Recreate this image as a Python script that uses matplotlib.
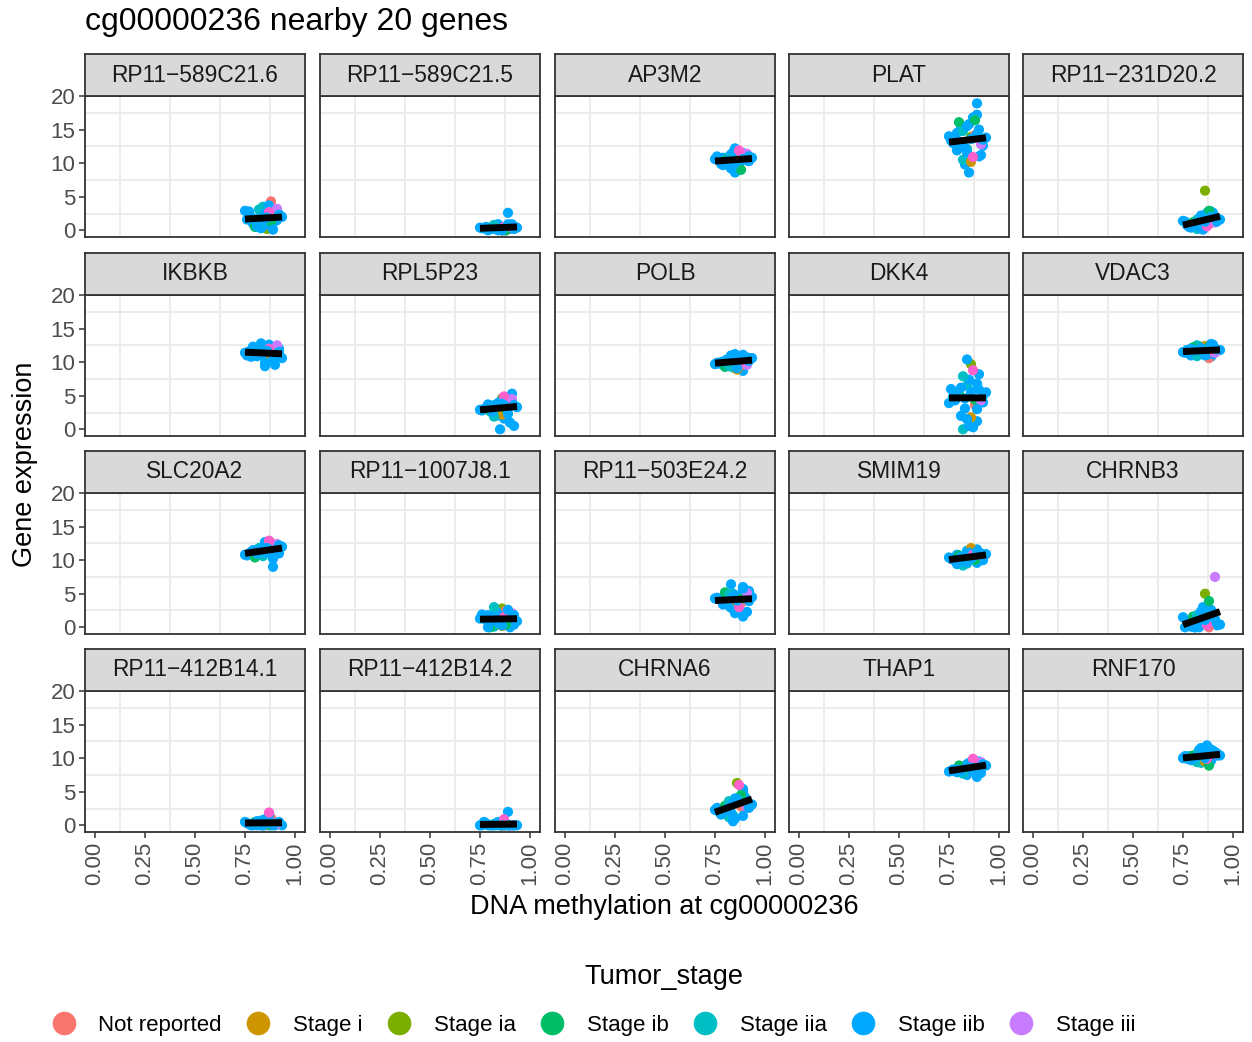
import numpy as np
import matplotlib.pyplot as plt
from matplotlib.lines import Line2D

plt.rcParams['font.family'] = ['Liberation Sans', 'DejaVu Sans']

W, H = 1252, 1042

stage_names = ["Not reported", "Stage i", "Stage ia", "Stage ib",
               "Stage iia", "Stage iib", "Stage iii", "Stage iv"]
stage_colors = ["#F8766D", "#CD9600", "#7CAE00", "#00BE67",
                "#00BFC4", "#00A9FF", "#C77CFF", "#FF61CC"]

# methylation beta value and tumour stage per sample (shared by every gene)
meth = [0.77, 0.81, 0.84, 0.87, 0.90, 0.79, 0.83, 0.86, 0.89, 0.92,
        0.76, 0.82, 0.85, 0.88, 0.91, 0.78, 0.80, 0.84, 0.87, 0.89,
        0.75, 0.83, 0.86, 0.90, 0.935, 0.79, 0.82, 0.85, 0.88, 0.91,
        0.81, 0.84, 0.87, 0.89, 0.86, 0.92]
stage = [5, 5, 4, 5, 5, 5, 5, 2, 5, 5, 5, 4, 5, 0, 5, 5, 3, 5,
         5, 5, 5, 5, 1, 5, 5, 5, 4, 5, 3, 6, 5, 5, 7, 5, 5, 5]

genes = ["RP11-589C21.6", "RP11-589C21.5", "AP3M2", "PLAT", "RP11-231D20.2",
         "IKBKB", "RPL5P23", "POLB", "DKK4", "VDAC3",
         "SLC20A2", "RP11-1007J8.1", "RP11-503E24.2", "SMIM19", "CHRNB3",
         "RP11-412B14.1", "RP11-412B14.2", "CHRNA6", "THAP1", "RNF170"]

expr_RP11_589C21_6 = [2.8, 1.2, 3.5, 0.4, 2.1, 1.0, 2.6, 0.2, 1.9, 2.4, 1.6, 3.1, 0.8, 4.3, 1.5, 2.0, 0.5, 1.8,
                      3.7, 1.1, 2.9, 0.3, 2.2, 1.4, 2.0, 1.7, 0.9, 2.5, 1.3, 3.2, 0.6, 1.6, 2.7, 0.1, 1.9, 2.3]
expr_RP11_589C21_5 = [0.3, 0.3, 0.8, 0.0, 0.2, 0.4, 0.5, 0.0, 2.6, 0.2, 0.3, 0.8, 0.4, 0.0, 0.9, 0.5, 0.2, 0.9,
                      0.1, 0.6, 0.4, 0.3, 0.0, 0.3, 0.4, 0.0, 0.7, 0.1, 0.0, 0.4, 0.2, 0.0, 0.5, 0.9, 0.0, 0.3]
expr_AP3M2 = [10.5, 9.8, 11.2, 10.1, 10.8, 10.8, 9.2, 10.6, 11.5, 10.3, 11.0, 11.0, 8.6, 10.9, 10.4, 9.9, 10.4, 11.6,
              9.5, 10.7, 10.6, 11.3, 10.0, 10.6, 10.8, 9.7, 10.5, 12.2, 9.0, 11.4, 10.3, 9.6, 11.9, 10.6, 10.2, 11.0]
expr_PLAT = [13.0, 15.2, 12.1, 16.8, 11.0, 14.5, 9.8, 13.9, 17.2, 12.6, 13.4, 10.5, 15.8, 14.2, 11.2, 12.9, 16.1, 11.6,
             13.7, 18.9, 14.0, 12.3, 10.2, 15.0, 13.8, 11.9, 14.8, 8.6, 16.4, 12.8, 13.1, 15.5, 10.9, 14.3, 13.6, 13.5]
expr_RP11_231D20_2 = [0.8, 1.0, 1.3, 2.0, 1.6, 0.6, 1.5, 5.9, 2.8, 1.8, 1.3, 0.2, 1.8, 0.9, 1.2, 0.5, 1.2, 0.3,
                      2.6, 1.4, 1.4, 0.7, 1.9, 2.6, 1.6, 0.4, 1.6, 0.1, 2.9, 1.2, 0.8, 2.2, 0.6, 2.0, 1.3, 1.3]
expr_IKBKB = [11.6, 10.9, 12.4, 11.2, 9.6, 11.8, 12.8, 10.5, 11.3, 12.0, 11.0, 11.7, 9.4, 12.2, 11.5, 10.8, 11.9, 11.1,
              12.6, 10.2, 11.4, 12.1, 11.0, 11.8, 10.6, 12.3, 11.2, 9.9, 11.6, 12.5, 10.9, 11.3, 12.0, 10.4, 11.7, 11.5]
expr_RPL5P23 = [3.0, 2.5, 3.8, 4.2, 1.0, 3.4, 2.0, 4.6, 3.1, 0.5, 2.8, 3.6, 0.0, 4.0, 5.3, 3.2, 2.7, 3.9,
                1.6, 4.4, 2.9, 3.5, 2.2, 4.8, 3.3, 3.7, 1.9, 4.1, 3.0, 4.5, 2.6, 3.4, 4.9, 2.3, 3.8, 3.6]
expr_POLB = [9.8, 10.4, 9.2, 10.8, 10.1, 9.6, 11.0, 10.2, 8.7, 10.6, 9.9, 10.3, 11.2, 9.5, 10.7, 10.0, 9.3, 10.5,
             9.9, 11.1, 9.7, 10.2, 8.9, 10.4, 10.6, 10.1, 9.4, 10.9, 10.0, 9.6, 10.3, 10.8, 9.8, 10.5, 9.1, 10.2]
expr_DKK4 = [4.8, 2.0, 6.5, 0.3, 8.2, 5.5, 3.1, 9.7, 1.2, 4.0, 6.0, 0.0, 7.4, 3.6, 4.6, 4.3, 5.2, 10.4,
             0.8, 6.8, 3.9, 4.6, 1.8, 5.9, 5.5, 5.0, 7.9, 0.5, 4.4, 4.3, 6.2, 1.5, 8.8, 3.0, 5.6, 5.0]
expr_VDAC3 = [11.8, 11.2, 12.3, 11.5, 12.6, 11.0, 11.9, 12.1, 10.8, 11.7, 11.4, 12.5, 11.6, 10.6, 12.0, 11.3, 12.2, 11.8,
              11.1, 12.7, 11.5, 11.9, 12.4, 11.2, 11.8, 12.0, 10.9, 11.6, 12.3, 11.4, 11.7, 12.1, 11.3, 12.6, 11.0, 11.9]
expr_SLC20A2 = [11.0, 11.3, 10.6, 12.4, 11.5, 10.9, 11.5, 12.0, 10.2, 11.0, 10.7, 11.8, 11.1, 12.6, 11.4, 11.2, 10.4, 11.9,
                12.3, 9.0, 10.8, 11.6, 12.1, 11.3, 12.0, 11.5, 10.9, 12.7, 11.7, 12.4, 11.0, 11.4, 12.9, 10.6, 11.8, 12.2]
expr_RP11_1007J8_1 = [1.5, 0.3, 2.2, 1.0, 0.0, 1.8, 0.6, 2.8, 1.2, 0.4, 1.9, 0.1, 1.4, 2.5, 0.8, 1.1, 0.0, 2.0,
                      0.5, 1.6, 1.3, 2.4, 0.2, 1.7, 0.9, 0.0, 3.0, 1.2, 0.4, 2.1, 1.0, 0.7, 1.5, 2.6, 0.3, 1.8]
expr_RP11_503E24_2 = [4.2, 3.5, 5.0, 2.8, 4.6, 3.9, 6.4, 4.1, 1.6, 5.4, 4.4, 3.2, 4.8, 3.6, 2.3, 4.0, 5.2, 3.3,
                      4.7, 6.0, 4.3, 2.9, 3.8, 5.6, 4.5, 3.4, 4.9, 2.1, 4.2, 5.1, 3.7, 4.6, 3.0, 5.8, 4.0, 3.9]
expr_SMIM19 = [10.1, 10.6, 9.5, 11.2, 10.3, 10.8, 9.8, 10.4, 11.6, 10.0, 10.2, 9.2, 10.9, 10.5, 11.0, 9.9, 10.7, 11.4,
               10.2, 9.6, 10.4, 10.1, 11.8, 10.6, 10.9, 9.4, 10.3, 11.1, 10.0, 10.7, 10.5, 9.7, 10.8, 11.3, 10.2, 10.6]
expr_CHRNB3 = [0.3, 0.0, 1.2, 2.5, 0.6, 0.5, 0.8, 5.0, 1.8, 0.3, 0.0, 0.2, 3.0, 0.0, 1.2, 0.8, 1.6, 0.4,
               2.8, 2.6, 1.5, 0.0, 1.5, 2.2, 0.4, 0.1, 1.8, 0.6, 3.9, 7.5, 0.0, 2.4, 0.3, 2.2, 1.1, 0.5]
expr_RP11_412B14_1 = [0.2, 0.0, 0.6, 0.0, 0.3, 0.3, 0.0, 0.8, 0.1, 0.2, 0.3, 0.4, 0.0, 1.1, 0.2, 0.0, 0.5, 0.0,
                      1.6, 0.3, 0.5, 0.7, 0.1, 0.0, 0.0, 0.0, 0.4, 0.9, 0.0, 0.2, 0.6, 0.0, 1.9, 0.0, 0.3, 0.5]
expr_RP11_412B14_2 = [0.5, 0.0, 0.3, 0.0, 0.0, 0.1, 0.0, 0.0, 2.0, 0.0, 0.0, 0.2, 0.0, 0.0, 0.0, 0.3, 0.0, 0.5,
                      0.0, 0.0, 0.0, 0.1, 0.0, 0.0, 0.0, 0.0, 0.0, 0.0, 0.3, 0.0, 0.0, 0.2, 0.9, 0.0, 0.0, 0.0]
expr_CHRNA6 = [2.0, 2.4, 1.5, 3.8, 2.6, 1.8, 3.0, 6.3, 5.4, 3.2, 2.6, 1.2, 4.0, 2.8, 3.4, 1.6, 2.9, 0.6,
               3.5, 5.0, 2.3, 1.9, 3.4, 4.2, 3.1, 2.1, 3.6, 1.0, 4.5, 2.7, 2.5, 3.3, 6.0, 1.4, 3.9, 2.6]
expr_THAP1 = [8.3, 8.0, 9.1, 8.6, 9.5, 7.9, 8.4, 8.8, 7.2, 9.0, 8.1, 8.7, 9.3, 8.5, 7.8, 8.2, 8.9, 7.5,
              9.7, 8.6, 8.0, 8.4, 9.2, 8.7, 8.9, 8.3, 7.7, 9.0, 8.5, 9.4, 8.1, 8.8, 9.9, 7.6, 8.6, 9.1]
expr_RNF170 = [9.9, 10.4, 9.3, 11.9, 10.2, 9.7, 11.2, 10.0, 10.5, 10.4, 10.3, 9.4, 10.6, 10.1, 10.9, 10.3, 10.4, 11.5,
               10.2, 9.6, 10.0, 10.7, 9.5, 11.1, 10.4, 9.8, 10.3, 10.9, 8.9, 10.6, 10.1, 10.5, 9.9, 11.3, 10.0, 10.7]

expr_all = [expr_RP11_589C21_6, expr_RP11_589C21_5, expr_AP3M2, expr_PLAT, expr_RP11_231D20_2,
            expr_IKBKB, expr_RPL5P23, expr_POLB, expr_DKK4, expr_VDAC3,
            expr_SLC20A2, expr_RP11_1007J8_1, expr_RP11_503E24_2, expr_SMIM19, expr_CHRNB3,
            expr_RP11_412B14_1, expr_RP11_412B14_2, expr_CHRNA6, expr_THAP1, expr_RNF170]

xticks = [0.0, 0.25, 0.5, 0.75, 1.0]
yticks = [0, 5, 10, 15, 20]


def box(left, top, w, h):
    return [left / W, 1 - (top + h) / H, w / W, h / H]


fig = plt.figure(figsize=(W / 100, H / 100), dpi=100)

col_left = [85, 320, 555, 789, 1023]
strip_top = [54, 253, 451, 649]
pw, ph, sh = 220, 141, 42

x = np.array(meth)
cols = [stage_colors[s] for s in stage]

for i, gene in enumerate(genes):
    r, c = divmod(i, 5)
    ax = fig.add_axes(box(col_left[c], strip_top[r] + sh, pw, ph))
    y = np.array(expr_all[i])
    ax.scatter(x, y, c=cols, s=54, linewidths=0, zorder=2)
    # least-squares line over the sampled methylation range
    k, b = np.polyfit(x, y, 1)
    xs = np.array([x.min(), x.max()])
    ax.plot(xs, k * xs + b, color='black', lw=5, solid_capstyle='butt', zorder=3)

    ax.set_xlim(-0.05, 1.05)
    ax.set_ylim(-1.0, 20.0)
    ax.set_xticks(xticks)
    ax.set_yticks(yticks)
    ax.set_xticks([0.125, 0.375, 0.625, 0.875], minor=True)
    ax.set_yticks([2.5, 7.5, 12.5, 17.5], minor=True)
    ax.grid(which='minor', color='#EBEBEB', lw=1.3, zorder=0)
    ax.tick_params(which='minor', length=0)
    ax.tick_params(which='major', length=4.5, width=1.1, color='#333333',
                   labelcolor='#4D4D4D', labelsize=16, pad=2.5)
    ax.set_xticklabels([f"{v:.2f}" for v in xticks], rotation=90)
    if c != 0:
        ax.tick_params(axis='y', left=False, labelleft=False)
    if r != 3:
        ax.tick_params(axis='x', bottom=False, labelbottom=False)
    for sp in ax.spines.values():
        sp.set_color('#333333')
        sp.set_linewidth(1.3)

    st = fig.add_axes(box(col_left[c], strip_top[r], pw, sh))
    st.set_facecolor('#D9D9D9')
    st.set_xticks([])
    st.set_yticks([])
    for sp in st.spines.values():
        sp.set_color('#333333')
        sp.set_linewidth(1.3)
    st.text(0.5, 0.5, gene.replace('-', '\u2212'), ha='center', va='center',
            fontsize=16.4, color='#1A1A1A', transform=st.transAxes)

fig.text(85 / W, 1 - 22 / H, "cg00000236 nearby 20 genes", fontsize=23,
         ha='left', va='center')
fig.text(25 / W, 1 - 464 / H, "Gene expression", fontsize=19.5,
         rotation=90, ha='center', va='center')
fig.text(664 / W, 1 - 907 / H, "DNA methylation at cg00000236", fontsize=19.5,
         ha='center', va='center')
fig.text(664 / W, 1 - 977 / H, "Tumor_stage", fontsize=19.5,
         ha='center', va='center')

handles = [Line2D([], [], marker='o', ls='', color=stage_colors[j], markersize=17,
                  markeredgewidth=0) for j in range(7)]
fig.legend(handles, stage_names[:7], loc='center', ncol=7,
           bbox_to_anchor=(594 / W, 1 - 1025 / H), frameon=False,
           fontsize=16, handletextpad=1.05, columnspacing=1.15, handlelength=1.0)

plt.savefig("out.png", dpi=100)
plt.close()
